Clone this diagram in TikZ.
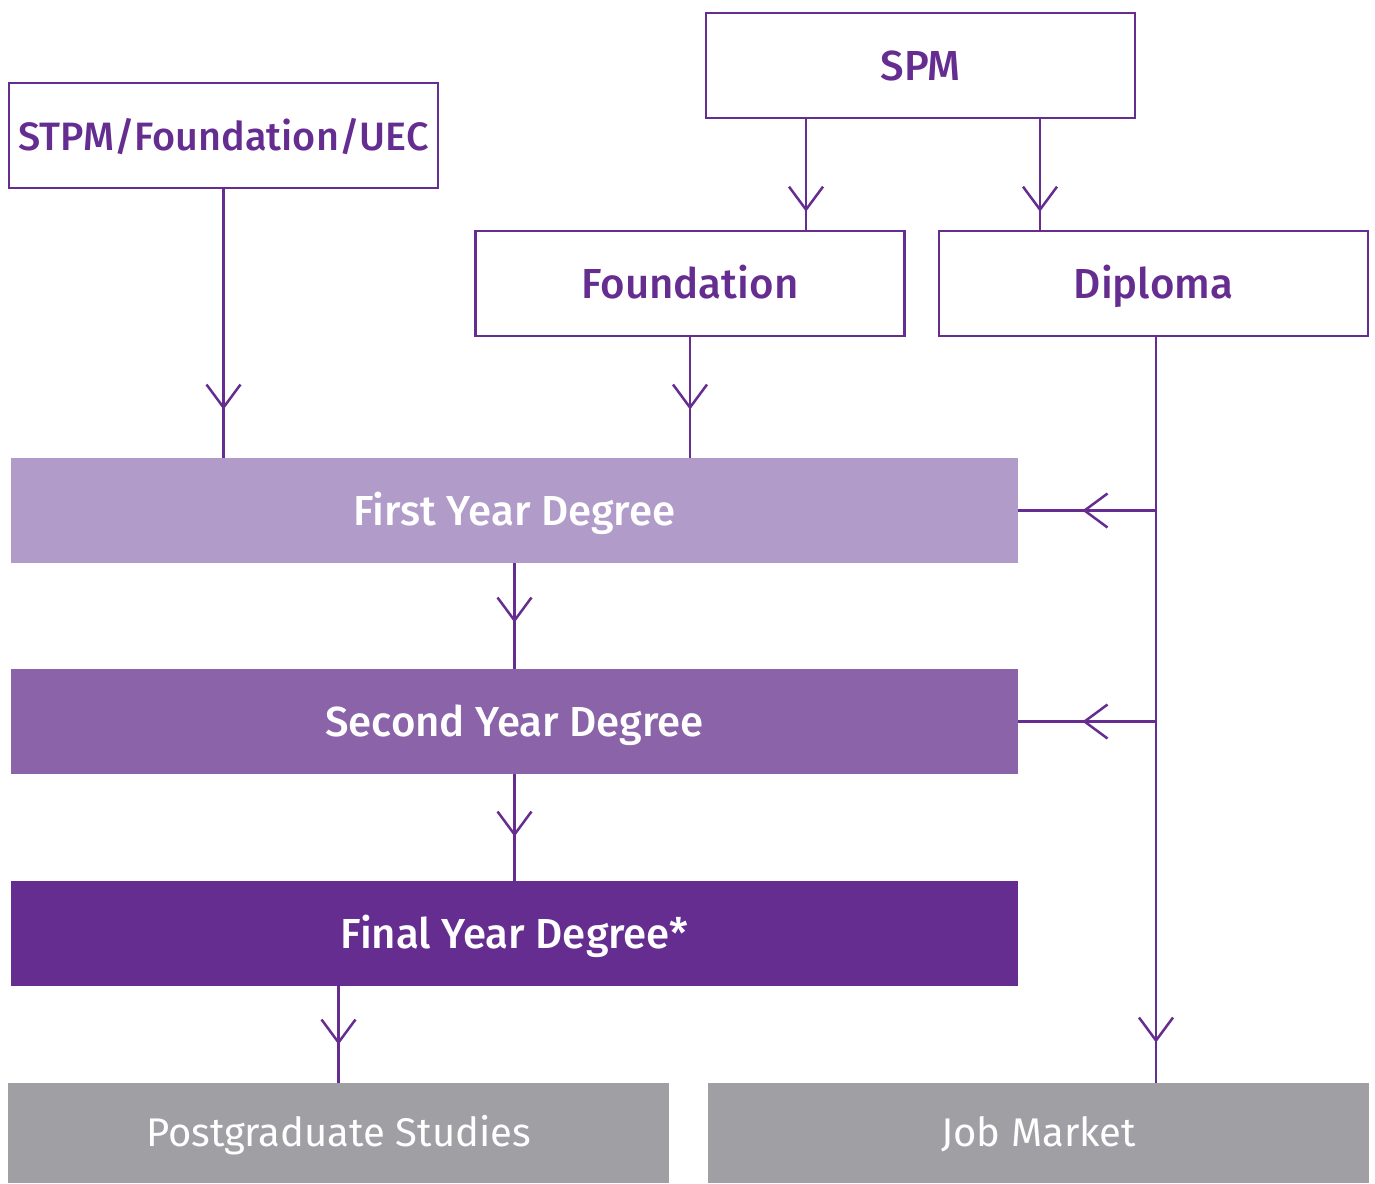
\documentclass[tikz,border=0pt]{standalone}
\usepackage{fontspec}
\setmainfont{Fira Sans}[UprightFont=* Medium, BoldFont=* Bold]
\newfontfamily\plainface{Fira Sans}
\usetikzlibrary{arrows.meta, decorations.markings}
\definecolor{uni}{HTML}{662D91}
\definecolor{lev1}{HTML}{B09BC9}
\definecolor{lev2}{HTML}{8A63A8}
\definecolor{lev3}{HTML}{662D91}
\definecolor{exitgray}{HTML}{A0A0A4}
\tikzset{
  entry/.style={draw=uni, line width=1.25pt, text=uni, minimum width=214.5pt, minimum height=52.5pt, inner sep=0pt, text height=14.5pt, text depth=0pt, font=\fontsize{21}{25}\selectfont},
  level/.style={fill=#1, text=white, minimum width=503.5pt, minimum height=52.5pt, inner sep=0pt, text height=14.5pt, text depth=0pt, font=\fontsize{21}{25}\selectfont},
  exit/.style={fill=exitgray, text=white, minimum width=330.5pt, minimum height=50pt, inner sep=0pt, text height=13pt, text depth=0pt, font=\plainface\fontsize{20}{24}\selectfont},
  flow/.style={draw=uni, line width=1.25pt, postaction={decorate}, decoration={markings, mark=at position -#1 with {\arrow{Straight Barb[length=11.5pt, width=17pt, line width=1.25pt]}}}}
}

\begin{document}
\begin{tikzpicture}[x=0.5pt, y=-0.5pt]
\useasboundingbox (0,0) rectangle (1375,1183);

\node[entry, font=\fontsize{19.8}{24}\selectfont] (stpm) at (223.5,135.5) {STPM/Foundation/UEC};
\node[entry] (spm) at (920.5,65.5) {SPM};
\node[entry] (found) at (690,283.5) {Foundation};
\node[entry] (dipl) at (1153.5,283.5) {Diploma};
\foreach \n/\y/\c/\t in {first/510.5/lev1/First Year Degree, second/721.5/lev2/Second Year Degree, final/933.5/lev3/Final Year Degree*}
  \node[level=\c] (\n) at (514.5,\y) {\t};
\node[exit] (post) at (338.5,1133) {Postgraduate Studies};
\node[exit] (job) at (1038.5,1133) {Job Market};

\coordinate (spmL) at (806,118);
\coordinate (spmR) at (1040,118);
\coordinate (dipS) at (1156,336);

\draw[flow=9pt] (spmL) -- (spmL |- found.north);
\draw[flow=9pt] (spmR) -- (spmR |- dipl.north);
\draw[flow=24pt] (stpm.south) -- (stpm.south |- first.north);
\draw[flow=24pt] (found.south) -- (found.south |- first.north);
\draw[flow=20pt] (dipS) -- (dipS |- job.north);
\draw[flow=32pt] (dipS |- first.east) -- (first.east);
\draw[flow=32pt] (dipS |- second.east) -- (second.east);
\draw[flow=23pt] (first.south) -- (second.north);
\draw[flow=22pt] (second.south) -- (final.north);
\draw[flow=19pt] (post.north |- final.south) -- (post.north);

\end{tikzpicture}
\end{document}
